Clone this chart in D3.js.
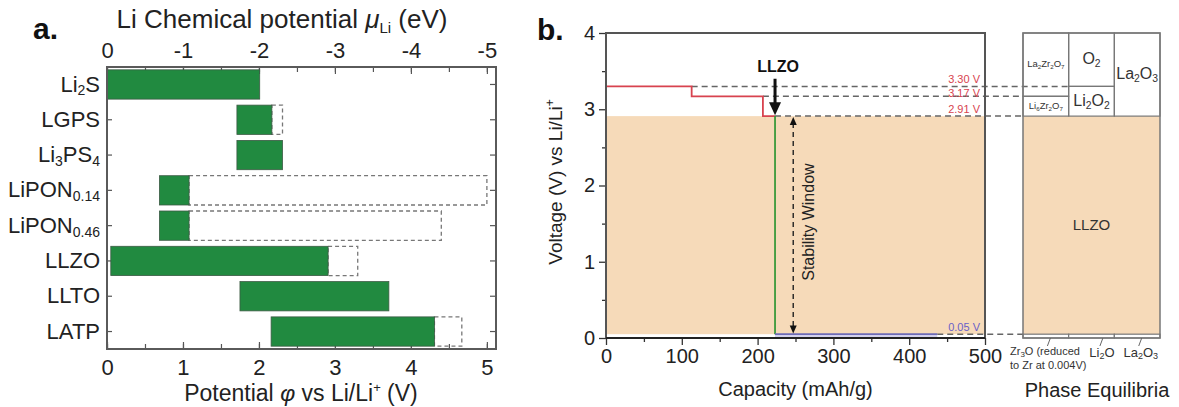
<!DOCTYPE html>
<html>
<head>
<meta charset="utf-8">
<script src="https://cdnjs.cloudflare.com/ajax/libs/d3/7.8.5/d3.min.js"></script>
<style>
  html, body { margin: 0; padding: 0; background: #fff; }
  svg { display: block; font-family: "Liberation Sans", Arial, sans-serif; }
</style>
</head>
<body>
<svg id="chart" width="1179" height="407"></svg>
<script>
// ---- panel a data: electrochemical windows (V vs Li/Li+)
var materials = ["Li{2}S", "LGPS", "Li{3}PS{4}", "LiPON{0.14}", "LiPON{0.46}", "LLZO", "LLTO", "LATP"];
var windowLow = [0, 1.71, 1.71, 0.69, 0.69, 0.05, 1.75, 2.16];
var windowHigh = [2.01, 2.17, 2.31, 1.08, 1.08, 2.91, 3.71, 4.31];
var oxidationFull = [null, 2.31, null, 5.0, 4.4, 3.30, null, 4.67];
var potentialTicks = [0, 1, 2, 3, 4, 5];
var chemTicks = [0, -1, -2, -3, -4, -5];

// ---- panel b data: LLZO lithiation / delithiation voltage profile
var redCapacity = [0, 113, 113, 207, 207, 223];
var redVoltage = [3.30, 3.30, 3.17, 3.17, 2.91, 2.91];
var greenCapacity = [223, 223];
var greenVoltage = [2.91, 0.05];
var blueCapacity = [223, 437];
var blueVoltage = [0.05, 0.05];
var levelVoltage = [3.30, 3.17, 2.91, 0.05];
var levelLabels = ["3.30 V", "3.17 V", "2.91 V", "0.05 V"];
var levelStart = [113, 207, 223, 437];
var levelReach = [1, 0, 0, 0];      // phase column the dashed line runs to
var capacityTicks = [0, 100, 200, 300, 400, 500];
var voltageTicks = [0, 1, 2, 3, 4];

// ---- phase equilibria boxes (column, low V, high V, label)
var phaseCol = [0, 0, 1, 1, 2];
var phaseLow = [3.17, 2.91, 3.30, 2.91, 2.91];
var phaseHigh = [4, 3.17, 4, 3.30, 4];
var phaseName = ["La{2}Zr{2}O{7}", "Li{6}Zr{2}O{7}", "O{2}", "Li{2}O{2}", "La{2}O{3}"];
var phaseSize = [9.5, 9.5, 16, 16, 16];
var reducedNames = ["Li{2}O", "La{2}O{3}"];

var svg = d3.select("#chart");
var green = "#218a40", tan = "#f6dab9", red = "#d8434f", purple = "#6a5fc8";

// text with {sub} and [sup] parts
function rich(text, str, big, small) {
  var parts = str.split(/(\{[^}]*\}|\[[^\]]*\])/).filter(function (p) { return p; });
  var off = 0;
  parts.forEach(function (p) {
    var kind = p[0];
    var isSub = kind === "{", isSup = kind === "[";
    var t = text.append("tspan")
      .text(isSub || isSup ? p.slice(1, -1) : p)
      .attr("font-size", isSub || isSup ? small : big);
    var want = isSub ? big * 0.18 : (isSup ? -big * 0.4 : 0);
    if (want !== off) { t.attr("dy", want - off); off = want; }
  });
}

// ================= panel a =================
var xA = d3.scaleLinear().domain([0, 5.12]).range([107, 496]);
var xTop = d3.scaleLinear().domain([0, -5.12]).range([107, 496]);
var yA = d3.scaleBand().domain(materials).range([67, 349]).paddingInner(0.17).paddingOuter(0.08);

var ga = svg.append("g");

// minor ticks every 0.5
var halves = d3.range(0, 5.01, 0.5);
ga.append("g").attr("transform", "translate(0,349)")
  .call(d3.axisBottom(xA).tickValues(halves).tickSize(-5).tickFormat(""));
ga.append("g").attr("transform", "translate(0,67)")
  .call(d3.axisTop(xA).tickValues(halves).tickSize(-5).tickFormat(""));

ga.append("g").attr("class", "axA").attr("transform", "translate(0,349)")
  .call(d3.axisBottom(xA).tickValues(potentialTicks).tickSize(-7).tickPadding(10).tickFormat(d3.format("d")));
ga.append("g").attr("class", "axA").attr("transform", "translate(0,67)")
  .call(d3.axisTop(xTop).tickValues(chemTicks).tickSize(-7).tickPadding(9)
    .tickFormat(function (d) { return d === 0 ? "0" : "-" + (-d); }));

var leftAx = ga.append("g").attr("class", "axA").attr("transform", "translate(107,0)")
  .call(d3.axisLeft(yA).tickSize(-5).tickPadding(7));
ga.append("g").attr("transform", "translate(496,0)")
  .call(d3.axisRight(yA).tickSize(-6).tickFormat(""));

ga.selectAll(".domain").remove();
ga.selectAll(".tick line").attr("stroke", "#555").attr("stroke-width", 1.2);
ga.selectAll(".axA text").attr("font-size", 22).attr("fill", "#222")
  .attr("font-family", "Liberation Sans, Arial, sans-serif");

leftAx.selectAll(".tick text").each(function (d) {
  var t = d3.select(this);
  t.text(null);
  rich(t, d, 22, 14);
});

// dashed full window
ga.selectAll("rect.full")
  .data(materials.filter(function (m, i) { return oxidationFull[i] !== null; }))
  .enter().append("rect")
  .attr("class", "full")
  .attr("x", function (m) { return xA(windowHigh[materials.indexOf(m)]); })
  .attr("width", function (m) { var i = materials.indexOf(m); return xA(oxidationFull[i]) - xA(windowHigh[i]); })
  .attr("y", function (m) { return yA(m); })
  .attr("height", yA.bandwidth())
  .attr("fill", "none").attr("stroke", "#777").attr("stroke-width", 1.3).attr("stroke-dasharray", "4,3");

// green bars
ga.selectAll("rect.bar")
  .data(materials)
  .enter().append("rect")
  .attr("class", "bar")
  .attr("x", function (m, i) { return xA(windowLow[i]); })
  .attr("width", function (m, i) { return xA(windowHigh[i]) - xA(windowLow[i]); })
  .attr("y", function (m) { return yA(m); })
  .attr("height", yA.bandwidth())
  .attr("fill", green).attr("stroke", "#3d5a45").attr("stroke-width", 0.8);

// frame
ga.append("rect").attr("x", 107).attr("y", 67).attr("width", 389).attr("height", 282)
  .attr("fill", "none").attr("stroke", "#5a5a5a").attr("stroke-width", 2);

// titles
var topTitle = ga.append("text").attr("x", 282).attr("y", 28).attr("text-anchor", "middle")
  .attr("font-size", 26).attr("fill", "#222");
topTitle.append("tspan").text("Li Chemical potential ");
topTitle.append("tspan").text("μ").attr("font-style", "italic");
topTitle.append("tspan").text("Li").attr("font-size", 15).attr("dy", 5);
topTitle.append("tspan").text(" (eV)").attr("dy", -5);

var botTitle = ga.append("text").attr("x", 301).attr("y", 401).attr("text-anchor", "middle")
  .attr("font-size", 23).attr("fill", "#222");
botTitle.append("tspan").text("Potential ");
botTitle.append("tspan").text("φ").attr("font-style", "italic");
botTitle.append("tspan").text(" vs Li/Li");
botTitle.append("tspan").text("+").attr("font-size", 13).attr("dy", -9);
botTitle.append("tspan").text(" (V)").attr("dy", 9);

ga.append("text").attr("x", 33).attr("y", 39).attr("font-size", 30).attr("font-weight", "bold")
  .attr("fill", "#111").text("a.");

// ================= panel b =================
var xB = d3.scaleLinear().domain([0, 500]).range([606, 985]);
var yB = d3.scaleLinear().domain([0, 4]).range([338, 33]);
var xP = d3.scaleLinear().domain([0, 3]).range([1023, 1160]);

var gb = svg.append("g");

// stable region
gb.append("rect").attr("x", xB(0)).attr("width", xB(500) - xB(0))
  .attr("y", yB(2.91)).attr("height", yB(0.05) - yB(2.91)).attr("fill", tan);
gb.append("rect").attr("x", xB(blueCapacity[0])).attr("width", xB(blueCapacity[1]) - xB(blueCapacity[0]))
  .attr("y", yB(0.05)).attr("height", yB(0) - yB(0.05)).attr("fill", "#d4d2ee");

// dashed level lines
gb.selectAll("line.level").data(levelVoltage).enter().append("line")
  .attr("class", "level")
  .attr("x1", function (v, i) { return xB(levelStart[i]); })
  .attr("x2", function (v, i) { return xP(levelReach[i]); })
  .attr("y1", function (v) { return yB(v); })
  .attr("y2", function (v) { return yB(v); })
  .attr("stroke", "#666").attr("stroke-width", 1.5).attr("stroke-dasharray", "6,4");

var line = d3.line().x(function (d) { return xB(d[0]); }).y(function (d) { return yB(d[1]); });
gb.append("path").datum(d3.zip(redCapacity, redVoltage)).attr("d", line)
  .attr("fill", "none").attr("stroke", red).attr("stroke-width", 1.8);
gb.append("path").datum(d3.zip(greenCapacity, greenVoltage)).attr("d", line)
  .attr("fill", "none").attr("stroke", "#3a9a3a").attr("stroke-width", 1.8);
gb.append("path").datum(d3.zip(blueCapacity, blueVoltage)).attr("d", line)
  .attr("fill", "none").attr("stroke", "#6d6bb8").attr("stroke-width", 1.8);

// level labels
gb.selectAll("text.level").data(levelLabels).enter().append("text")
  .attr("class", "level")
  .attr("x", xB(500) - 5)
  .attr("y", function (t, i) { return yB(levelVoltage[i]) - (i === 1 ? -1 : 3); })
  .attr("text-anchor", "end").attr("font-size", 11)
  .attr("fill", function (t, i) { return i === 3 ? purple : red; })
  .text(function (t) { return t; });

// axes
gb.append("g").attr("transform", "translate(0,338)")
  .call(d3.axisBottom(xB).tickValues(d3.range(50, 500, 100)).tickSize(4).tickFormat(""));
gb.append("g").attr("transform", "translate(606,0)")
  .call(d3.axisLeft(yB).tickValues(d3.range(0.5, 4, 1)).tickSize(4).tickFormat(""));
gb.append("g").attr("class", "axB").attr("transform", "translate(0,338)")
  .call(d3.axisBottom(xB).tickValues(capacityTicks).tickSize(7).tickPadding(4).tickFormat(d3.format("d")));
gb.append("g").attr("class", "axB").attr("transform", "translate(606,0)")
  .call(d3.axisLeft(yB).tickValues(voltageTicks).tickSize(7).tickPadding(4).tickFormat(d3.format("d")));
gb.selectAll(".domain").remove();
gb.selectAll(".tick line").attr("stroke", "#333").attr("stroke-width", 1.3);
gb.selectAll(".axB text").attr("font-size", 20).attr("fill", "#222")
  .attr("font-family", "Liberation Sans, Arial, sans-serif");

// frame: top/right lighter, left/bottom dark
gb.append("path")
  .attr("d", "M" + xB(0) + "," + yB(0) + "V" + yB(4) + "H" + xB(500) + "V" + yB(0))
  .attr("fill", "none").attr("stroke", "#555").attr("stroke-width", 2);
gb.append("path")
  .attr("d", "M" + xB(0) + "," + yB(0) + "H" + xB(500))
  .attr("fill", "none").attr("stroke", "#222").attr("stroke-width", 2);

// LLZO arrow pointing at the 2.91 V corner
var arX = xB(223), arTip = yB(2.92);
gb.append("line").attr("x1", arX).attr("x2", arX)
  .attr("y1", yB(3.40)).attr("y2", arTip - 10)
  .attr("stroke", "#111").attr("stroke-width", 3);
gb.append("path")
  .attr("d", "M" + (arX - 6) + "," + (arTip - 13) + "L" + (arX + 6) + "," + (arTip - 13) + "L" + arX + "," + arTip + "Z")
  .attr("fill", "#111");
gb.append("text").attr("x", xB(227)).attr("y", yB(3.49)).attr("text-anchor", "middle")
  .attr("font-size", 16).attr("font-weight", "bold").attr("fill", "#111").text("LLZO");

// stability window double arrow
var swX = xB(247), swTop = yB(2.90), swBot = yB(0.06);
gb.append("line").attr("x1", swX).attr("x2", swX).attr("y1", swTop + 6).attr("y2", swBot - 6)
  .attr("stroke", "#222").attr("stroke-width", 1.4).attr("stroke-dasharray", "5,4");
gb.append("path")
  .attr("d", "M" + (swX - 3.5) + "," + (swTop + 8) + "L" + (swX + 3.5) + "," + (swTop + 8) + "L" + swX + "," + swTop + "Z")
  .attr("fill", "#111");
gb.append("path")
  .attr("d", "M" + (swX - 3.5) + "," + (swBot - 8) + "L" + (swX + 3.5) + "," + (swBot - 8) + "L" + swX + "," + swBot + "Z")
  .attr("fill", "#111");
gb.append("text").attr("transform", "translate(" + (swX + 21) + "," + yB(1.52) + ") rotate(-90)")
  .attr("text-anchor", "middle").attr("font-size", 16).attr("fill", "#222").text("Stability Window");

// axis titles
gb.append("text").attr("x", xB(250)).attr("y", 396).attr("text-anchor", "middle")
  .attr("font-size", 20).attr("fill", "#222").text("Capacity (mAh/g)");
var yTitle = gb.append("text").attr("transform", "translate(562,182) rotate(-90)")
  .attr("text-anchor", "middle").attr("fill", "#222");
rich(yTitle, "Voltage (V) vs Li/Li[+]", 19, 12);

gb.append("text").attr("x", 537).attr("y", 40).attr("font-size", 30).attr("font-weight", "bold")
  .attr("fill", "#111").text("b.");

// ================= phase equilibria =================
var gp = svg.append("g");
gp.append("rect").attr("x", xP(0)).attr("width", xP(3) - xP(0))
  .attr("y", yB(2.91)).attr("height", yB(0.05) - yB(2.91)).attr("fill", tan);

gp.selectAll("rect.cell").data(phaseName).enter().append("rect")
  .attr("class", "cell")
  .attr("x", function (n, i) { return xP(phaseCol[i]); })
  .attr("width", function (n, i) { return xP(phaseCol[i] + 1) - xP(phaseCol[i]); })
  .attr("y", function (n, i) { return yB(phaseHigh[i]); })
  .attr("height", function (n, i) { return yB(phaseLow[i]) - yB(phaseHigh[i]); })
  .attr("fill", "none").attr("stroke", "#777").attr("stroke-width", 1.2);

gp.selectAll("text.cell").data(phaseName).enter().append("text")
  .attr("class", "cell")
  .attr("x", function (n, i) { return (xP(phaseCol[i]) + xP(phaseCol[i] + 1)) / 2; })
  .attr("y", function (n, i) { return (yB(phaseLow[i]) + yB(phaseHigh[i])) / 2 + phaseSize[i] * 0.3; })
  .attr("text-anchor", "middle").attr("fill", "#333")
  .each(function (n, i) { rich(d3.select(this), n, phaseSize[i], phaseSize[i] * 0.65); });

// bottom strip (reduced phases)
gp.selectAll("rect.strip").data([0, 1, 2]).enter().append("rect")
  .attr("class", "strip")
  .attr("x", function (c) { return xP(c); })
  .attr("width", function (c) { return xP(c + 1) - xP(c); })
  .attr("y", yB(0.05)).attr("height", yB(0) - yB(0.05))
  .attr("fill", "#fff").attr("stroke", "#777").attr("stroke-width", 1.2);

gp.append("rect").attr("x", xP(0)).attr("width", xP(3) - xP(0))
  .attr("y", yB(4)).attr("height", yB(0) - yB(4))
  .attr("fill", "none").attr("stroke", "#777").attr("stroke-width", 1.5);

gp.append("text").attr("x", (xP(1) + xP(2)) / 2).attr("y", yB(1.42))
  .attr("text-anchor", "middle").attr("font-size", 15).attr("fill", "#333").text("LLZO");

// leaders and labels for reduced phases
var leadAt = [0.6, 1.75, 2.6];
gp.selectAll("line.lead").data(leadAt).enter().append("line")
  .attr("class", "lead")
  .attr("x1", function (c) { return xP(c); }).attr("x2", function (c) { return xP(c) - 3; })
  .attr("y1", yB(0)).attr("y2", yB(0) + 8)
  .attr("stroke", "#666").attr("stroke-width", 1);

var zr = gp.append("text").attr("x", xP(0) - 13).attr("y", 355).attr("fill", "#333");
rich(zr, "Zr{3}O (reduced", 11, 8);
gp.append("text").attr("x", xP(0) - 13).attr("y", 369).attr("fill", "#333")
  .attr("font-size", 11).text("to Zr at 0.004V)");
gp.selectAll("text.red").data(reducedNames).enter().append("text")
  .attr("class", "red")
  .attr("x", function (n, i) { return xP(leadAt[i + 1]) - 1; })
  .attr("y", 357).attr("text-anchor", "middle").attr("fill", "#333")
  .each(function (n) { rich(d3.select(this), n, 13, 9); });

gp.append("text").attr("x", 1097).attr("y", 397).attr("text-anchor", "middle")
  .attr("font-size", 20).attr("fill", "#222").text("Phase Equilibria");
</script>
</body>
</html>
